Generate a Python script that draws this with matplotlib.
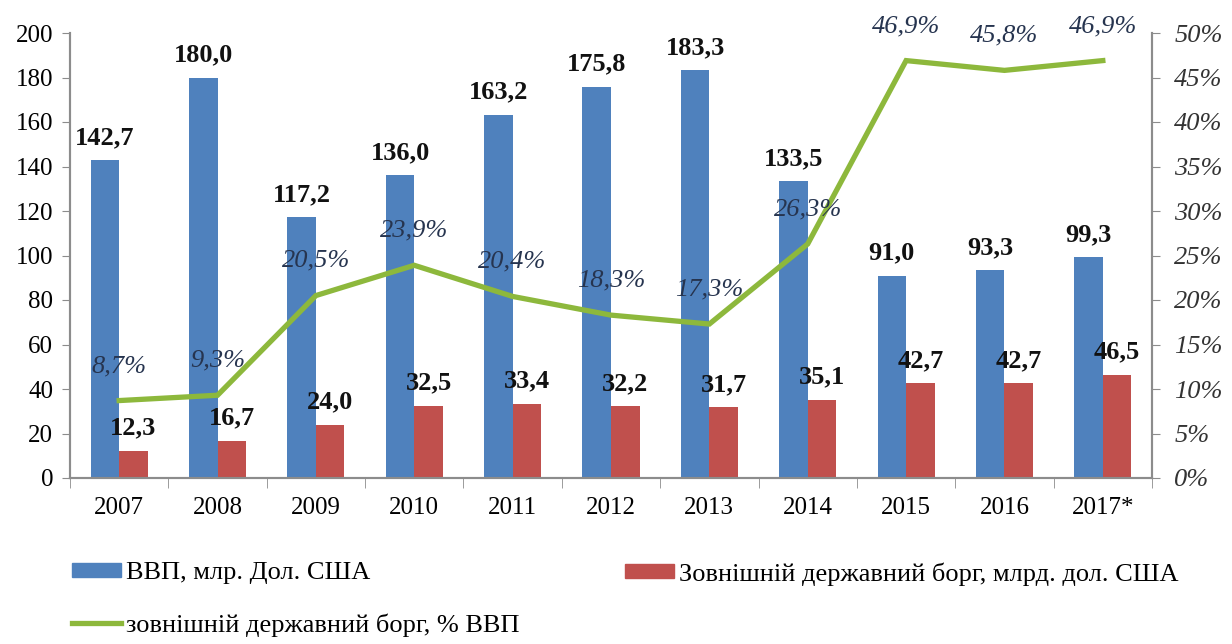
import matplotlib.pyplot as plt
from matplotlib.patches import Patch
from matplotlib.lines import Line2D
import numpy as np

years = ['2007', '2008', '2009', '2010', '2011', '2012', '2013', '2014', '2015', '2016', '2017*']
gdp = [142.7, 180.0, 117.2, 136.0, 163.2, 175.8, 183.3, 133.5, 91.0, 93.3, 99.3]
debt = [12.3, 16.7, 24.0, 32.5, 33.4, 32.2, 31.7, 35.1, 42.7, 42.7, 46.5]
debt_pct = [8.7, 9.3, 20.5, 23.9, 20.4, 18.3, 17.3, 26.3, 46.9, 45.8, 46.9]

blue = '#4F81BD'
red = '#C0504D'
green = '#8DB83C'
grey = '#8C8C8C'

plt.rcParams['font.family'] = ['Liberation Serif', 'DejaVu Serif']

def fmt(v):
    return '{:.1f}'.format(v).replace('.', ',')

fig = plt.figure(figsize=(12.32, 6.44), dpi=100)
ax = fig.add_axes([70 / 1232, 1 - 478 / 644, 1082 / 1232, 445 / 644])
ax2 = ax.twinx()

x = np.arange(len(years))
w = 0.29
ax.bar(x - w / 2, gdp, w, color=blue, zorder=2)
ax.bar(x + w / 2, debt, w, color=red, zorder=2)

for xi, v in zip(x, gdp):
    ax.annotate(fmt(v), (xi - w / 2, v), xytext=(0, 8), textcoords='offset points',
                ha='center', va='bottom', fontsize=19, fontweight='bold', color='#111111')
for xi, v in zip(x, debt):
    ax.annotate(fmt(v), (xi + w / 2, v), xytext=(0, 8), textcoords='offset points',
                ha='center', va='bottom', fontsize=19, fontweight='bold', color='#111111')

ax2.plot(x, debt_pct, color=green, lw=3.8, solid_joinstyle='miter', zorder=3)
for xi, v in zip(x, debt_pct):
    ax2.annotate(fmt(v) + '%', (xi, v), xytext=(0, 17), textcoords='offset points',
                 ha='center', va='bottom', fontsize=19, style='italic', color='#26344F')

ax.set_xlim(-0.5, len(years) - 0.5)
ax.set_ylim(0, 200)
ax.set_yticks(range(0, 201, 20))
ax2.set_ylim(0, 50)
ax2.set_yticks(range(0, 51, 5))
ax2.set_yticklabels(['{}%'.format(t) for t in range(0, 51, 5)], style='italic', color='#333333')

ax.set_xticks(x)
ax.set_xticklabels(years)
ax.set_xticks(np.arange(-0.5, len(years), 1), minor=True)
ax.tick_params(axis='x', which='major', length=0, pad=14, labelsize=18)
ax.tick_params(axis='x', which='minor', length=7, color=grey, direction='out')
ax.tick_params(axis='y', length=6, color=grey, labelsize=18, pad=6)
ax2.tick_params(axis='y', length=6, color=grey, labelsize=19, pad=10)

for a in (ax, ax2):
    a.spines['top'].set_visible(False)
    for s in ('left', 'right', 'bottom'):
        a.spines[s].set_color(grey)
        a.spines[s].set_linewidth(1.5)

leg_kw = dict(loc='upper left', frameon=False, fontsize=19, handlelength=1.85,
              handleheight=0.45, handletextpad=0.2, labelspacing=1.1,
              borderpad=0, borderaxespad=0)
fig.legend([Patch(color=blue), Line2D([], [], color=green, lw=3.8)],
           ['ВВП, млр. Дол. США', 'зовнішній державний борг, % ВВП'],
           bbox_to_anchor=(72 / 1232, 1 - 562 / 644), **leg_kw)
fig.legend([Patch(color=red)], ['Зовнішній державний борг, млрд. дол. США'],
           bbox_to_anchor=(625 / 1232, 1 - 562 / 644), **leg_kw)

plt.savefig('out.png', dpi=100)
